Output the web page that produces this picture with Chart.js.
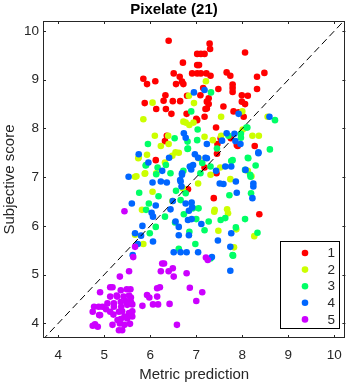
<!DOCTYPE html>
<html>
<head>
<meta charset="utf-8">
<script src="https://cdn.jsdelivr.net/npm/chart.js@4/dist/chart.umd.min.js"></script>
<style>
  html, body { margin: 0; padding: 0; background: #fff; }
</style>
</head>
<body>
<canvas id="chart" width="351" height="385"></canvas>
<script>
// valores: [prediccion, puntuacion]
const level1 = [[6.40,9.80],[7.29,9.74],[7.30,9.63],[7.02,9.53],[7.10,9.53],[7.18,9.53],[8.06,9.56],[6.71,9.35],[7.02,9.30],[7.06,9.30],
  [6.51,9.13],[6.91,9.13],[7.02,9.13],[7.10,9.13],[7.22,9.13],[7.31,9.08],[8.48,9.14],[7.66,9.15],[7.74,9.08],[8.32,9.06],
  [6.64,9.06],[5.85,9.02],[6.11,8.97],[6.69,8.96],[6.56,8.91],[6.72,8.91],[5.93,8.91],[7.79,8.90],[7.79,8.83],[7.79,8.75],
  [7.48,8.81],[7.15,8.83],[8.32,8.81],[6.33,8.68],[6.80,8.67],[7.09,8.68],[7.99,8.68],[8.12,8.67],[5.88,8.52],[6.29,8.57],
  [6.49,8.56],[6.65,8.56],[7.23,8.55],[7.27,8.50],[7.27,8.62],[7.99,8.55],[8.06,8.50],[7.59,8.45],[6.13,8.40],[6.34,8.40],
  [7.23,8.41],[6.46,8.30],[6.79,8.30],[7.81,8.35],[7.00,8.20],[7.18,8.24],[7.92,8.33],[8.03,8.24],[7.02,8.17],[7.43,8.02],
  [6.32,7.74],[7.46,7.68],[7.75,7.80],[7.90,7.64],[8.27,7.64],[7.45,7.48],[6.12,7.35],[7.18,7.20],[7.44,7.08],[6.82,6.75],
  [7.38,6.57],[8.37,6.24],[7.53,7.80],[7.88,7.66],[6.36,7.85],[7.20,8.40]];
const level2 = [[7.21,8.97],[6.05,8.53],[6.84,8.67],[6.95,8.52],[5.85,8.19],[7.54,8.24],[8.00,8.35],[8.55,8.24],[6.77,8.12],[6.85,8.07],
  [6.94,8.12],[8.01,7.98],[6.10,7.85],[6.39,7.85],[6.23,7.64],[6.40,7.68],[7.18,7.83],[7.36,7.76],[7.54,7.85],[8.22,7.85],
  [8.36,7.85],[6.62,7.50],[6.48,7.44],[6.55,7.51],[7.05,7.39],[5.75,7.41],[5.93,7.46],[5.74,7.39],[6.32,7.30],[5.67,7.01],
  [5.89,7.08],[6.13,7.08],[7.04,6.87],[7.31,7.05],[7.74,6.96],[8.20,7.02],[8.12,7.13],[7.52,7.20],[6.05,6.70],[6.48,6.51],
  [6.71,6.77],[7.40,6.33],[7.67,6.34],[7.69,6.26],[7.48,5.90],[7.87,5.93],[8.26,5.79],[5.67,5.82],[5.82,6.33],[5.85,5.63],
  [7.82,5.56],[7.39,6.29],[6.72,8.14],[5.70,7.02],[5.88,7.07]];
const level3 = [[7.32,8.74],[6.89,8.35],[8.71,8.17],[8.11,8.02],[7.03,7.98],[5.95,7.68],[6.53,7.80],[7.02,7.76],[6.82,7.59],[7.70,7.85],
  [7.97,7.89],[8.09,8.02],[8.60,7.57],[8.12,7.40],[5.91,7.25],[6.16,7.20],[6.44,7.08],[6.72,7.13],[7.09,7.08],[7.76,7.33],
  [8.29,7.24],[7.31,7.22],[8.06,7.15],[8.18,7.01],[5.76,6.68],[5.97,6.46],[5.91,6.33],[6.18,6.61],[6.56,6.72],[6.77,6.67],
  [6.66,6.53],[6.93,6.36],[7.05,6.36],[6.32,6.19],[6.73,6.24],[7.00,6.14],[7.53,6.12],[7.63,6.16],[8.06,6.14],[6.12,5.98],
  [5.99,5.85],[6.54,6.07],[7.18,5.91],[7.27,6.09],[6.85,5.88],[7.86,5.97],[8.33,5.86],[6.62,5.53],[6.98,5.63],[7.80,5.39],
  [7.31,5.33],[7.72,6.63],[8.19,6.67],[7.79,5.40],[6.34,7.25],[5.90,7.24],[6.13,7.06],[6.81,7.73],[6.81,7.58],[7.45,7.59],
  [7.79,7.35],[7.13,7.29],[8.13,7.39],[8.17,7.05],[7.97,7.81]];
const level4 = [[6.95,8.74],[7.18,8.79],[7.92,8.30],[8.59,8.24],[6.73,7.90],[7.83,7.89],[7.96,7.68],[7.23,7.68],[7.56,7.75],[5.75,7.47],
  [6.97,7.47],[6.41,7.40],[7.23,7.39],[5.96,7.30],[6.93,7.25],[7.63,7.22],[7.76,7.22],[8.35,7.51],[6.26,7.13],[6.89,7.16],
  [6.69,7.08],[5.53,7.01],[6.05,6.89],[6.23,6.91],[6.36,6.89],[6.66,6.91],[6.68,6.81],[7.43,7.13],[7.51,6.87],[7.59,6.86],
  [7.86,6.91],[8.07,7.15],[8.24,6.87],[8.24,6.81],[7.88,6.68],[8.22,6.57],[5.60,6.46],[6.12,6.42],[6.49,6.51],[6.77,6.46],
  [6.90,6.48],[6.91,6.38],[6.84,6.31],[6.03,6.27],[6.06,6.19],[6.44,6.34],[6.82,6.12],[6.90,6.14],[6.55,6.09],[6.62,5.98],
  [6.62,5.81],[7.11,6.04],[5.83,6.00],[5.67,5.85],[5.80,5.80],[7.76,5.85],[7.47,5.70],[6.84,5.81],[5.73,5.63],[5.62,5.40],
  [6.06,5.68],[6.51,5.46],[6.66,5.46],[6.79,5.46],[7.04,5.46],[7.34,5.36],[7.74,5.57],[7.74,5.08],[7.66,7.90],[7.85,7.74],
  [6.77,7.81],[7.04,7.40],[7.20,7.40],[6.86,7.22],[6.69,7.05],[6.65,6.94],[8.35,7.49]];
const level5 = [[5.44,6.30],[5.67,5.57],[5.63,5.36],[5.34,4.96],[5.54,5.07],[6.26,5.23],[6.30,5.23],[6.23,5.07],[6.40,5.07],[6.49,5.13],
  [6.51,4.96],[4.91,4.64],[5.13,4.74],[5.18,4.74],[5.36,4.68],[5.49,4.70],[5.57,4.70],[6.15,4.72],[6.21,4.74],[5.93,4.58],
  [5.98,4.53],[6.15,4.55],[5.13,4.55],[5.27,4.57],[5.42,4.55],[5.54,4.57],[5.07,4.41],[5.21,4.41],[5.36,4.44],[5.50,4.38],
  [5.61,4.39],[5.83,4.36],[6.06,4.39],[6.17,4.39],[6.42,4.40],[4.78,4.34],[4.88,4.34],[4.96,4.34],[4.75,4.24],[5.04,4.29],
  [4.91,4.17],[5.13,4.24],[5.20,4.18],[5.32,4.24],[5.39,4.25],[5.54,4.21],[5.61,4.25],[5.36,4.09],[5.50,4.10],[5.61,4.14],
  [5.18,3.97],[5.34,4.00],[5.44,3.97],[5.56,3.99],[4.75,3.95],[4.80,3.98],[4.86,3.93],[5.32,3.86],[5.39,3.86],[6.58,3.97],
  [6.79,5.03],[6.86,4.73],[7.13,4.64],[7.00,4.46],[7.21,5.35],[7.25,5.30],[5.28,4.55],[5.47,4.46],[5.58,4.53],[5.44,4.14],
  [5.29,4.07],[4.89,4.17],[5.21,4.34],[5.37,4.34],[5.58,4.44]];

const levels = [level1, level2, level3, level4, level5];
const levelLabels = ['1', '2', '3', '4', '5'];
const levelColors = ['#ff0000', '#ccff00', '#00ff66', '#0066ff', '#cc00ff'];
const xTicks = [4, 5, 6, 7, 8, 9, 10];
const yTicks = [4, 5, 6, 7, 8, 9, 10];
const diagonal = [3, 11];

const axisColor = '#262626';
const fontFamily = '"Liberation Sans", Arial, Helvetica, sans-serif';

// marco con marcas interiores y leyenda dentro del grafico
const framePlugin = {
    id: 'frame',
    afterDraw(chart) {
        const { ctx, chartArea: a, scales: { x, y } } = chart;
        ctx.save();
        ctx.strokeStyle = axisColor;
        ctx.lineWidth = 1;
        ctx.beginPath();
        xTicks.forEach(v => {
            const px = Math.round(x.getPixelForValue(v)) + 0.5;
            ctx.moveTo(px, a.bottom); ctx.lineTo(px, a.bottom - 3);
            ctx.moveTo(px, a.top); ctx.lineTo(px, a.top + 3);
        });
        yTicks.forEach(v => {
            const py = Math.round(y.getPixelForValue(v)) + 0.5;
            ctx.moveTo(a.left, py); ctx.lineTo(a.left + 3, py);
            ctx.moveTo(a.right, py); ctx.lineTo(a.right - 3, py);
        });
        ctx.stroke();
        ctx.strokeRect(Math.round(a.left) + 0.5, Math.round(a.top) + 0.5,
            Math.round(a.right - a.left) - 1, Math.round(a.bottom - a.top) - 1);

        // leyenda
        const boxL = 280.5, boxT = 241.5, boxW = 59, boxH = 87;
        ctx.fillStyle = '#fff';
        ctx.fillRect(boxL, boxT, boxW, boxH);
        ctx.strokeStyle = '#000';
        ctx.strokeRect(boxL, boxT, boxW, boxH);
        ctx.font = '13.5px ' + fontFamily;
        ctx.textAlign = 'right';
        ctx.textBaseline = 'middle';
        levelLabels.forEach((lab, i) => {
            const cy = 253 + i * 16.6;
            ctx.fillStyle = levelColors[i];
            ctx.beginPath();
            ctx.arc(305, cy, 3.3, 0, Math.PI * 2);
            ctx.fill();
            ctx.fillStyle = axisColor;
            ctx.fillText(lab, 335, cy + 0.5);
        });
        ctx.restore();
    }
};

const datasets = levels.map((pts, i) => ({
    type: 'scatter',
    label: levelLabels[i],
    data: pts.map(p => ({ x: p[0], y: p[1] })),
    backgroundColor: levelColors[i],
    borderWidth: 0,
    pointRadius: 3.3,
    order: 6 - i
}));

datasets.push({
    type: 'line',
    label: 'diagonal',
    data: diagonal.map(v => ({ x: v, y: v })),
    borderColor: '#000',
    borderWidth: 1,
    borderDash: [7, 4],
    pointRadius: 0,
    fill: false,
    order: 0
});

new Chart(document.getElementById('chart'), {
    data: { datasets },
    options: {
        responsive: false,
        devicePixelRatio: 1,
        animation: false,
        layout: { padding: { top: 0, right: 3, bottom: 0, left: 0 } },
        plugins: {
            legend: { display: false },
            tooltip: { enabled: false },
            title: {
                display: true,
                text: 'Pixelate (21)',
                color: '#000',
                font: { family: fontFamily, size: 15, weight: 'bold' },
                padding: { top: 1, bottom: 2 }
            }
        },
        scales: {
            x: {
                type: 'linear',
                min: 3.67,
                max: 10.24,
                grid: { display: false, drawTicks: false },
                border: { display: false },
                afterBuildTicks: s => { s.ticks = xTicks.map(v => ({ value: v })); },
                afterFit: s => { s.height = 47; },
                ticks: {
                    color: axisColor,
                    padding: 9,
                    font: { family: fontFamily, size: 13.5 },
                    callback: v => v
                },
                title: {
                    display: true,
                    text: 'Metric prediction',
                    color: axisColor,
                    font: { family: fontFamily, size: 15 },
                    padding: { top: 0, bottom: 1 }
                }
            },
            y: {
                type: 'linear',
                min: 3.70,
                max: 10.205,
                grid: { display: false, drawTicks: false },
                border: { display: false },
                afterBuildTicks: s => { s.ticks = yTicks.map(v => ({ value: v })); },
                afterFit: s => { s.width = 43; },
                ticks: {
                    color: axisColor,
                    padding: 4,
                    font: { family: fontFamily, size: 13.5 },
                    callback: v => v
                },
                title: {
                    display: true,
                    text: 'Subjective score',
                    color: axisColor,
                    font: { family: fontFamily, size: 15 },
                    padding: { top: 1, bottom: 0 }
                }
            }
        }
    },
    plugins: [framePlugin]
});
</script>
</body>
</html>
